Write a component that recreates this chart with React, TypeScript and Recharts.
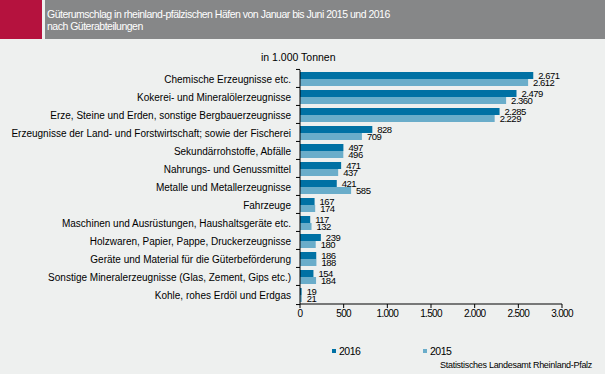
import React from "react";
import { BarChart, Bar, XAxis, YAxis, LabelList, Legend } from "recharts";

const categories = [
  "Chemische Erzeugnisse etc.",
  "Kokerei- und Mineralölerzeugnisse",
  "Erze, Steine und Erden, sonstige Bergbauerzeugnisse",
  "Erzeugnisse der Land- und Forstwirtschaft; sowie der Fischerei",
  "Sekundärrohstoffe, Abfälle",
  "Nahrungs- und Genussmittel",
  "Metalle und Metallerzeugnisse",
  "Fahrzeuge",
  "Maschinen und Ausrüstungen, Haushaltsgeräte etc.",
  "Holzwaren, Papier, Pappe, Druckerzeugnisse",
  "Geräte und Material für die Güterbeförderung",
  "Sonstige Mineralerzeugnisse (Glas, Zement, Gips etc.)",
  "Kohle, rohes Erdöl und Erdgas",
];
const values2016 = [2671, 2479, 2285, 828, 497, 471, 421, 167, 117, 239, 186, 154, 19];
const values2015 = [2612, 2360, 2229, 709, 496, 437, 585, 174, 132, 180, 188, 184, 21];
const xTicks = [0, 500, 1000, 1500, 2000, 2500, 3000];

const data = categories.map((name, i) => ({
  name,
  y2016: values2016[i],
  y2015: values2015[i],
}));

const FONT = "'Liberation Sans', Arial, sans-serif";
const DARK = "#0071a4";
const LIGHT = "#6aadca";
const BG = "#eef0ef";

// German thousands separator
const fmt = (v: number) =>
  String(Math.round(v)).replace(/\B(?=(\d{3})+(?!\d))/g, ".");

const CategoryTick = (props: any) => {
  const { x, y, payload, index } = props;
  const half = 19.1 / 2;
  return (
    <g>
      <line x1={x - 4} x2={x} y1={y - half} y2={y - half} stroke="#000" />
      {index === categories.length - 1 && (
        <line x1={x - 4} x2={x} y1={y + half} y2={y + half} stroke="#000" />
      )}
      <text x={x - 9} y={y} dy={3.5} textAnchor="end" fontSize={10} fill="#000" fontFamily={FONT}>
        {payload.value}
      </text>
    </g>
  );
};

const LegendContent = () => (
  <div style={{ position: "relative", height: 14, fontFamily: FONT, fontSize: 10.5, letterSpacing: -0.5 }}>
    {[
      { label: "2016", color: DARK, left: 332 },
      { label: "2015", color: LIGHT, left: 423 },
    ].map((d) => (
      <div key={d.label} style={{ position: "absolute", left: d.left, top: 0, display: "flex", alignItems: "center" }}>
        <span style={{ width: 4, height: 4, background: d.color, marginRight: 3, display: "inline-block" }} />
        <span>{d.label}</span>
      </div>
    ))}
  </div>
);

const labelStyle = { fill: "#000", fontSize: 9.5, fontFamily: FONT, letterSpacing: -0.5 };

export default function App() {
  return (
    <div style={{ position: "fixed", left: 0, top: 0, width: 605, height: 374, background: BG, fontFamily: FONT, overflow: "hidden" }}>
      <div style={{ position: "absolute", left: 0, top: 0, width: 42, height: 39, background: "#b5123e" }} />
      <div
        style={{
          position: "absolute",
          left: 45,
          top: 0,
          width: 560,
          height: 39,
          background: "#868788",
          color: "#fff",
          fontSize: 10.5,
          letterSpacing: -0.5,
          lineHeight: "12px",
          padding: "8px 0 0 2px",
          boxSizing: "border-box",
        }}
      >
        Güterumschlag in rheinland-pfälzischen Häfen von Januar bis Juni 2015 und 2016
        <br />
        nach Güterabteilungen
      </div>
      <div style={{ position: "absolute", left: 261, top: 51, fontSize: 10.5, color: "#000" }}>in 1.000 Tonnen</div>
      <div style={{ position: "absolute", right: 13, top: 360, fontSize: 9, letterSpacing: -0.3, color: "#000" }}>
        Statistisches Landesamt Rheinland-Pfalz
      </div>
      <div style={{ position: "absolute", left: 0, top: 0 }}>
        <BarChart
          width={605}
          height={374}
          data={data}
          layout="vertical"
          margin={{ top: 70, right: 43, bottom: 36, left: 0 }}
          barSize={7}
          barGap={0}
        >
          <XAxis
            type="number"
            domain={[0, 3000]}
            ticks={xTicks}
            tickFormatter={fmt}
            axisLine={{ stroke: "#000" }}
            tickLine={{ stroke: "#000" }}
            tickSize={4}
            tick={{ fill: "#000", fontSize: 10, fontFamily: FONT, letterSpacing: -0.7 }}
            height={20}
            interval={0}
          />
          <YAxis
            type="category"
            dataKey="name"
            width={300}
            axisLine={{ stroke: "#000" }}
            tickLine={false}
            tickSize={0}
            tickMargin={0}
            tick={<CategoryTick />}
            interval={0}
          />
          <Legend
            verticalAlign="bottom"
            content={<LegendContent />}
            wrapperStyle={{ left: 0, top: 345, width: 605 }}
          />
          <Bar dataKey="y2016" name="2016" fill={DARK} isAnimationActive={false}>
            <LabelList dataKey="y2016" position="right" offset={5} formatter={(v: any) => fmt(Number(v))} style={labelStyle} />
          </Bar>
          <Bar dataKey="y2015" name="2015" fill={LIGHT} isAnimationActive={false}>
            <LabelList dataKey="y2015" position="right" offset={5} formatter={(v: any) => fmt(Number(v))} style={labelStyle} />
          </Bar>
        </BarChart>
      </div>
    </div>
  );
}
